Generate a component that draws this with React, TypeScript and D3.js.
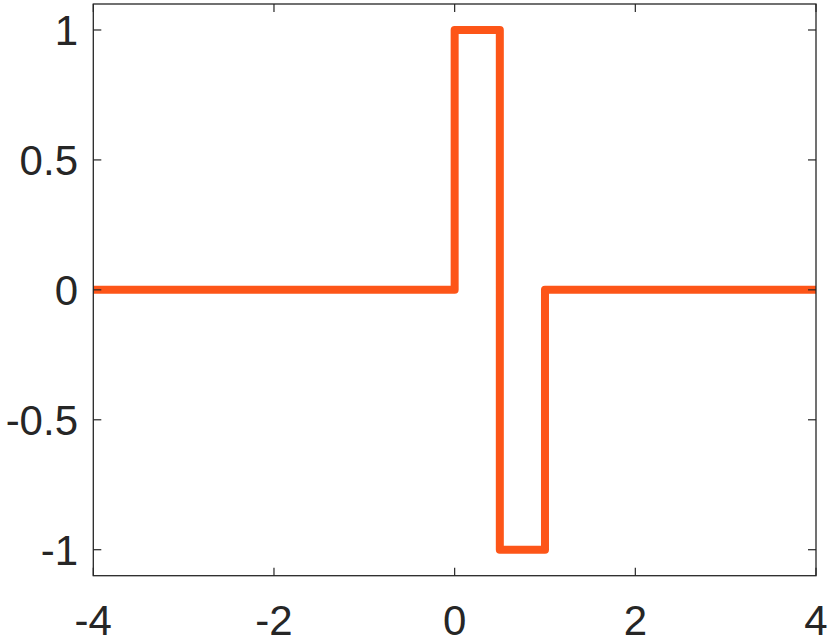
import React from "react";
import * as d3 from "d3";

const xs = [-4, 0, 0, 0.5, 0.5, 1, 1, 4];
const ys = [0, 0, 1, 1, -1, -1, 0, 0];
const xTicks = [-4, -2, 0, 2, 4];
const yTicks = [-1, -0.5, 0, 0.5, 1];
const xDomain = [-4, 4];
const yDomain = [-1.1, 1.1];

export default function App() {
  const W = 830, H = 641;
  const L = 93.3, R = 816, T = 4, B = 575.7;
  const x = d3.scaleLinear().domain(xDomain).range([L, R]);
  const y = d3.scaleLinear().domain(yDomain).range([B, T]);
  const pts: [number, number][] = xs.map((v, i) => [v, ys[i]]);
  const line = d3.line<[number, number]>().x(d => x(d[0])).y(d => y(d[1]));
  const axisColor = "#262626";
  const font = "'Liberation Sans', Arial, Helvetica, sans-serif";
  const tl = 8;
  return (
    <svg width={W} height={H} style={{ position: "absolute", left: 0, top: 0, background: "#fff" }}>
      <rect x={0} y={0} width={W} height={H} fill="#fff" />
      <path d={line(pts) || ""} fill="none" stroke="#fd5518" strokeWidth={8} strokeLinejoin="round" strokeLinecap="butt" />
      <rect x={L} y={T} width={R - L} height={B - T} fill="none" stroke={axisColor} strokeWidth={1.3} />
      {xTicks.map(t => (
        <g key={"x" + t}>
          <line x1={x(t)} x2={x(t)} y1={B} y2={B - tl} stroke={axisColor} strokeWidth={1.2} />
          <line x1={x(t)} x2={x(t)} y1={T} y2={T + tl} stroke={axisColor} strokeWidth={1.2} />
          <text x={x(t)} y={635} textAnchor="middle" fontFamily={font} fontSize={42} fill={axisColor}>{t}</text>
        </g>
      ))}
      {yTicks.map(t => (
        <g key={"y" + t}>
          <line x1={L} x2={L + tl} y1={y(t)} y2={y(t)} stroke={axisColor} strokeWidth={1.2} />
          <line x1={R} x2={R - tl} y1={y(t)} y2={y(t)} stroke={axisColor} strokeWidth={1.2} />
          <text x={78} y={y(t) + 15} textAnchor="end" fontFamily={font} fontSize={42} fill={axisColor}>{t}</text>
        </g>
      ))}
    </svg>
  );
}
